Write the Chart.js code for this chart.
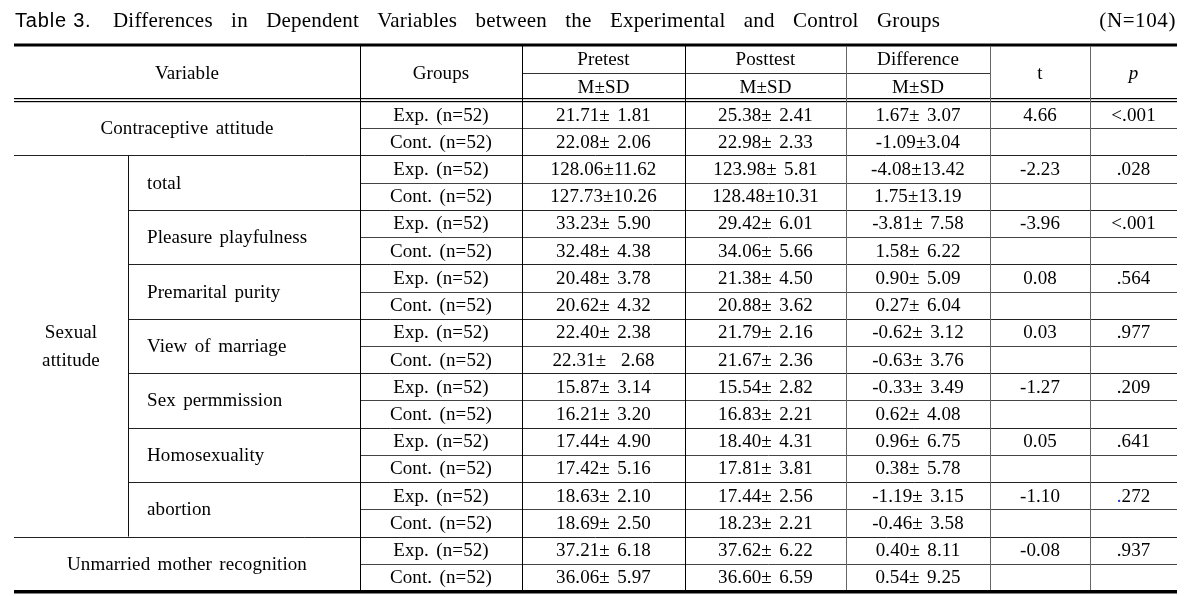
<!DOCTYPE html>
<html><head><meta charset="utf-8">
<script src="https://cdn.jsdelivr.net/npm/chart.js@4.4.1/dist/chart.umd.min.js"></script>
<style>html,body{margin:0;padding:0;background:#fff}#wrap{width:1195px;height:596px}</style>
</head><body><div id="wrap"><canvas id="c" width="1195" height="596"></canvas></div>
<script>
// ---------------- DATA ----------------
const titleLabel = 'Table 3.';
const titleText = 'Differences in Dependent Variables between the Experimental and Control Groups';
const sampleNote = '(N=104)';
const headerColumns = ['Variable', 'Groups', 'Pretest', 'Posttest', 'Difference', 't', 'p'];
const statLabel = 'M±SD';
const groupLabels = ['Exp. (n=52)', 'Cont. (n=52)'];
const parentLabel = ['Sexual', 'attitude'];
const variableLabels = ['Contraceptive attitude', 'total', 'Pleasure playfulness', 'Premarital purity',
  'View of marriage', 'Sex permmission', 'Homosexuality', 'abortion', 'Unmarried mother recognition'];
const pretest = ['21.71± 1.81', '22.08± 2.06', '128.06±11.62', '127.73±10.26', '33.23± 5.90', '32.48± 4.38',
  '20.48± 3.78', '20.62± 4.32', '22.40± 2.38', '22.31±  2.68', '15.87± 3.14', '16.21± 3.20',
  '17.44± 4.90', '17.42± 5.16', '18.63± 2.10', '18.69± 2.50', '37.21± 6.18', '36.06± 5.97'];
const posttest = ['25.38± 2.41', '22.98± 2.33', '123.98± 5.81', '128.48±10.31', '29.42± 6.01', '34.06± 5.66',
  '21.38± 4.50', '20.88± 3.62', '21.79± 2.16', '21.67± 2.36', '15.54± 2.82', '16.83± 2.21',
  '18.40± 4.31', '17.81± 3.81', '17.44± 2.56', '18.23± 2.21', '37.62± 6.22', '36.60± 6.59'];
const difference = ['1.67± 3.07', '-1.09±3.04', '-4.08±13.42', '1.75±13.19', '-3.81± 7.58', '1.58± 6.22',
  '0.90± 5.09', '0.27± 6.04', '-0.62± 3.12', '-0.63± 3.76', '-0.33± 3.49', '0.62± 4.08',
  '0.96± 6.75', '0.38± 5.78', '-1.19± 3.15', '-0.46± 3.58', '0.40± 8.11', '0.54± 9.25'];
const tValues = ['4.66', '-2.23', '-3.96', '0.08', '0.03', '-1.27', '0.05', '-1.10', '-0.08'];
const pValues = ['<.001', '.028', '<.001', '.564', '.977', '.209', '.641', '.272', '.937'];

// ---------------- LAYOUT (positions / styles) ----------------
const L = {
  edges: [14, 128, 360, 522, 685, 846, 990, 1090, 1177],
  subLabelX: 147,
  titleRow: -3.47, headerTop: -2.52, headerMid: -1.53, headerBottom: -0.5,
  body: '19px "Liberation Serif", "Times New Roman", serif',
  titleSerif: '21px "Liberation Serif", "Times New Roman", serif',
  titleSans: '20px "Liberation Sans", Arial, sans-serif',
  vColors: ['#000', '#111', '#000', '#000', '#000', '#666', '#666', '#666', '#000'],
  hColor: '#333',
  blueDotRow: 7
};

const nRows = groupLabels.length * variableLabels.length; // 18

const tablePlugin = {
  id: 'tableDraw',
  afterDraw(chart) {
    const ctx = chart.ctx, xs = chart.scales.x, ys = chart.scales.y;
    const X = v => xs.getPixelForValue(v);
    const Y = v => ys.getPixelForValue(v);
    const E = L.edges;
    const left = X(E[0]), right = X(E[E.length - 1]);
    ctx.save();
    const setSpacing = (ls, ws) => {
      if ('letterSpacing' in ctx) ctx.letterSpacing = ls + 'px';
      if ('wordSpacing' in ctx) ctx.wordSpacing = ws + 'px';
    };
    const text = (s, x, y, align, font, color) => {
      ctx.font = font || L.body;
      ctx.fillStyle = color || '#000';
      ctx.textAlign = align || 'center';
      ctx.textBaseline = 'middle';
      ctx.fillText(s, x, y + 1);
    };
    const hline = (x0, x1, y, color) => {
      ctx.strokeStyle = color || L.hColor; ctx.lineWidth = 1;
      const yy = Math.round(y) + 0.5;
      ctx.beginPath(); ctx.moveTo(x0, yy); ctx.lineTo(x1, yy); ctx.stroke();
    };
    const vline = (x, y0, y1, color) => {
      ctx.strokeStyle = color || '#000'; ctx.lineWidth = 1;
      const xx = Math.round(x) + 0.5;
      ctx.beginPath(); ctx.moveTo(xx, y0); ctx.lineTo(xx, y1); ctx.stroke();
    };

    // ---- title ----
    const ty = Y(L.titleRow);
    setSpacing(0.8, 0);
    text(titleLabel, 15, ty, 'left', L.titleSans);
    // serif title spread between 113 and 940
    ctx.font = L.titleSerif;
    setSpacing(0.2, 0);
    const words = titleText.split(' ');
    const wW = words.map(w => ctx.measureText(w).width);
    const tot = wW.reduce((a, b) => a + b, 0);
    const gap = (940 - 113 - tot) / (words.length - 1);
    let cx = 113;
    words.forEach((w, i) => { text(w, cx, ty, 'left', L.titleSerif); cx += wW[i] + gap; });
    setSpacing(0.6, 0);
    text(sampleNote, right - 1, ty, 'right', L.titleSerif);

    // ---- rules ----
    const yTop = Y(L.headerTop), yMid = Y(L.headerMid), yHB = Y(L.headerBottom), yBot = Y(nRows - 0.5);
    ctx.fillStyle = '#000';
    ctx.fillRect(left, yTop - 2.5, right - left, 3);
    ctx.fillRect(left, yBot - 1, right - left, 3.5);
    ctx.fillRect(left, yHB - 3, right - left, 1.2);
    ctx.fillRect(left, yHB, right - left, 1.2);
    hline(X(E[3]), X(E[6]), yMid, '#333');

    for (let i = 0; i < nRows - 1; i++) {
      const yb = Y(i + 0.5);
      let x0;
      if (i % 2 === 0) x0 = X(E[2]);
      else if (i === 1 || i === nRows - 3) x0 = left;
      else x0 = X(E[1]);
      hline(x0, right, yb, i % 2 === 0 ? '#444' : '#222');
    }
    // verticals
    for (let k = 2; k <= 7; k++) vline(X(E[k]), yTop, yBot - 1, L.vColors[k]);
    vline(X(E[1]), Y(1.5), Y(nRows - 2.5), L.vColors[1]);

    // ---- header text ----
    setSpacing(0.1, 2.5);
    const hc = k => (X(E[k]) + X(E[k + 1])) / 2;
    const hMidAll = (yTop + yHB) / 2;
    text(headerColumns[0], (left + X(E[2])) / 2, hMidAll);
    text(headerColumns[1], hc(2), hMidAll);
    for (let k = 3; k <= 5; k++) {
      text(headerColumns[k - 1], hc(k), (yTop + yMid) / 2);
      text(statLabel, hc(k), (yMid + yHB) / 2);
    }
    text(headerColumns[5], hc(6), hMidAll);
    text(headerColumns[6], hc(7), hMidAll, 'center', 'italic ' + L.body);

    // ---- body ----
    variableLabels.forEach((v, b) => {
      const yc = Y(2 * b + 0.5);
      if (b === 0 || b === variableLabels.length - 1) text(v, (left + X(E[2])) / 2, yc);
      else text(v, X(L.subLabelX), yc, 'left');
      text(tValues[b], hc(6), Y(2 * b));
      const p = pValues[b];
      if (b === L.blueDotRow && p[0] === '.') {
        ctx.font = L.body;
        const w = ctx.measureText(p).width;
        const x0 = hc(7) - w / 2;
        text('.', x0, Y(2 * b), 'left', L.body, '#2233cc');
        text(p.slice(1), x0 + ctx.measureText('.').width, Y(2 * b), 'left');
      } else text(p, hc(7), Y(2 * b));
    });
    const py = (Y(1.5) + Y(nRows - 2.5)) / 2;
    text(parentLabel[0], (left + X(E[1])) / 2, py - 13.6);
    text(parentLabel[1], (left + X(E[1])) / 2, py + 13.6);

    for (let i = 0; i < nRows; i++) {
      const yc = Y(i);
      text(groupLabels[i % 2], hc(2), yc);
      text(pretest[i], hc(3), yc);
      text(posttest[i], hc(4), yc);
      text(difference[i], hc(5), yc);
    }
    ctx.restore();
  }
};

new Chart(document.getElementById('c'), {
  type: 'scatter',
  data: { datasets: [{ data: [], pointRadius: 0 }] },
  options: {
    responsive: false, animation: false, events: [],
    layout: { padding: 0 },
    plugins: { legend: { display: false }, tooltip: { enabled: false } },
    scales: {
      x: { type: 'linear', display: false, min: 0, max: 1195 },
      y: { type: 'linear', display: false, min: -4.21, max: 17.684, reverse: true }
    }
  },
  plugins: [tablePlugin]
});
</script>
</body></html>
